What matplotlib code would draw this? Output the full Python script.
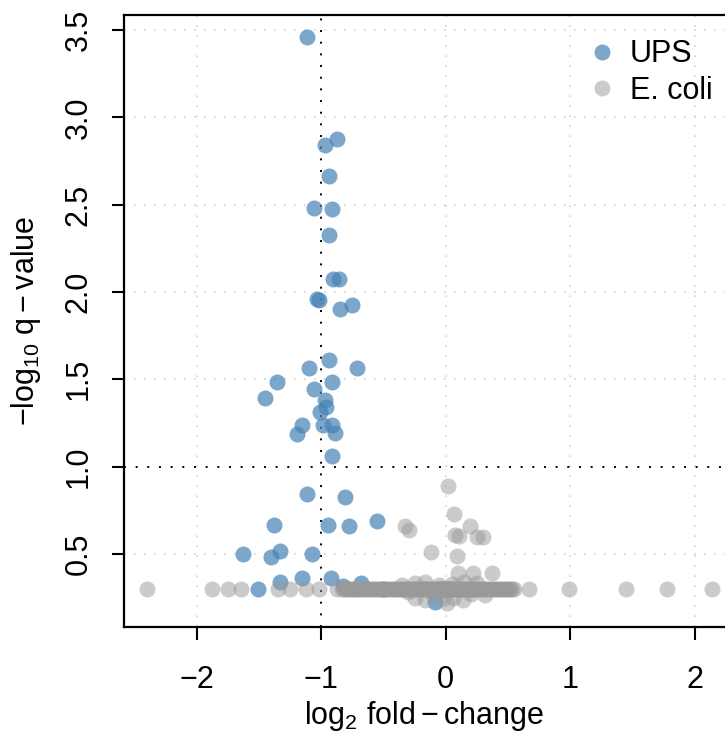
import matplotlib
matplotlib.use("Agg")
import matplotlib.pyplot as plt
from matplotlib.lines import Line2D

plt.rcParams['font.family'] = ['Liberation Sans', 'DejaVu Sans']
plt.rcParams['mathtext.fontset'] = 'custom'
plt.rcParams['mathtext.rm'] = 'Liberation Sans'
plt.rcParams['mathtext.it'] = 'Liberation Sans:italic'
plt.rcParams['mathtext.default'] = 'regular'

# UPS proteins
ups_x = [-1.11, -0.875, -0.966, -0.939, -1.057, -0.915, -0.939, -0.907, -0.854, -1.03, -1.014, -0.848, -0.75,
         -0.934, -1.095, -0.712, -1.351, -0.915, -1.059, -1.45, -0.966, -0.958, -1.009, -1.153, -0.982, -0.915,
         -1.196, -0.886, -0.915,
         -1.113, -0.811, -1.38, -0.942, -0.774, -0.551, -1.627, -1.40, -1.327, -1.07,
         -1.33, -1.153, -0.92, -0.827, -0.68, -1.504, -0.50, -0.086]
ups_y = [3.46, 2.874, 2.839, 2.664, 2.479, 2.473, 2.328, 2.074, 2.074, 1.958, 1.954, 1.904, 1.924,
         1.609, 1.566, 1.566, 1.485, 1.485, 1.443, 1.395, 1.380, 1.343, 1.315, 1.237, 1.237, 1.237,
         1.187, 1.193, 1.061,
         0.843, 0.825, 0.666, 0.666, 0.660, 0.687, 0.498, 0.485, 0.517, 0.498,
         0.338, 0.361, 0.364, 0.317, 0.332, 0.30, 0.30, 0.227]

# E. coli proteins: isolated points on the q-value floor
ecoli_floor_x = [-2.395, -1.878, -1.75, -1.643, -1.343, -1.25, -1.124, -1.014, -0.875,
                 0.666, 0.987, 1.45, 1.774, 2.14]
# E. coli proteins: dense band on the q-value floor
ecoli_band_x = [-0.83, -0.815, -0.80, -0.785, -0.77, -0.755, -0.74, -0.725, -0.71, -0.695, -0.68, -0.665,
                -0.65, -0.635, -0.62, -0.605, -0.59, -0.575, -0.56, -0.545, -0.53, -0.515, -0.50, -0.485,
                -0.47, -0.455, -0.44, -0.425, -0.41, -0.395, -0.38, -0.37, -0.36, -0.345, -0.33, -0.32,
                -0.31, -0.295, -0.28, -0.27, -0.26, -0.25, -0.24, -0.225, -0.21, -0.20, -0.19, -0.18,
                -0.17, -0.16, -0.15, -0.14, -0.13, -0.12, -0.11, -0.10, -0.09, -0.08, -0.07, -0.06,
                -0.05, -0.045, -0.04, -0.035, -0.03, -0.025, -0.02, -0.015, -0.01, -0.005, 0.0, 0.005,
                0.01, 0.015, 0.02, 0.025, 0.03, 0.035, 0.04, 0.045, 0.05, 0.06, 0.07, 0.08, 0.09, 0.10,
                0.11, 0.12, 0.13, 0.14, 0.15, 0.16, 0.17, 0.18, 0.19, 0.20, 0.21, 0.22, 0.23, 0.24,
                0.25, 0.265, 0.28, 0.295, 0.31, 0.325, 0.34, 0.355, 0.37, 0.385, 0.40, 0.415, 0.43,
                0.445, 0.46, 0.475, 0.49, 0.505, 0.52, 0.535, 0.55]
ecoli_floor_y = 0.30
# E. coli proteins: scattered points
ecoli_x = [-0.327, -0.292, 0.016, 0.069, 0.195, 0.075, 0.11, 0.254, 0.30, -0.118, 0.088, 0.101, 0.217, 0.374,
           -0.247, -0.166, 0.249, 0.05, -0.05, 0.15, -0.35, -0.246, -0.166, 0.141, 0.315, 0.008, -0.02, 0.06,
           -0.10, 0.20, -0.30]
ecoli_y = [0.662, 0.637, 0.891, 0.727, 0.660, 0.609, 0.603, 0.599, 0.599, 0.513, 0.490, 0.393, 0.393, 0.393,
           0.332, 0.341, 0.332, 0.33, 0.32, 0.34, 0.32, 0.246, 0.237, 0.237, 0.265, 0.218, 0.25, 0.25,
           0.27, 0.27, 0.28]

x_ticks = [-2, -1, 0, 1, 2]
x_tick_labels = ['\u22122', '\u22121', '0', '1', '2']
y_ticks = [0.5, 1.0, 1.5, 2.0, 2.5, 3.0, 3.5]
y_tick_labels = ['0.5', '1.0', '1.5', '2.0', '2.5', '3.0', '3.5']
fc_threshold = -1
q_threshold = 1.0

ups_color = '#4682B4'
ecoli_color = '#999999'

fig = plt.figure(figsize=(7.25, 7.33), dpi=100)
ax = fig.add_axes([124/725, 106/733, 1 - 124/725, (627-15)/733])
ax.set_xlim(-2.582, 2.2416)
ax.set_ylim(0.0822, 3.5859)

grid_ls = (0, (1, 5))
for xv in x_ticks:
    if xv != fc_threshold:
        ax.axvline(xv, color='#D3D3D3', lw=1.2, ls=grid_ls, zorder=0)
for yv in y_ticks:
    if yv != q_threshold:
        ax.axhline(yv, color='#D3D3D3', lw=1.2, ls=grid_ls, zorder=0)
ax.axvline(fc_threshold, color='black', lw=1.4, ls=grid_ls, zorder=1)
ax.axhline(q_threshold, color='black', lw=1.4, ls=grid_ls, zorder=1)

s = 133
ax.scatter(ups_x, ups_y, s=s, color=ups_color, alpha=0.7, linewidths=0, zorder=2)
all_ecoli_x = ecoli_floor_x + ecoli_band_x + ecoli_x
all_ecoli_y = [ecoli_floor_y] * (len(ecoli_floor_x) + len(ecoli_band_x)) + ecoli_y
ax.scatter(all_ecoli_x, all_ecoli_y, s=s, color=ecoli_color, alpha=0.5, linewidths=0, zorder=3)

ax.set_xticks(x_ticks)
ax.set_xticklabels(x_tick_labels)
ax.set_yticks(y_ticks)
ax.set_yticklabels(y_tick_labels, rotation=90, va='center')
ax.tick_params(axis='both', labelsize=22, length=9, width=1.5, direction='out')
ax.tick_params(axis='x', pad=18)
ax.tick_params(axis='y', pad=13)
for side in ['left', 'top', 'bottom']:
    ax.spines[side].set_linewidth(1.6)
ax.spines['right'].set_visible(False)

ax.set_xlabel(r'$\mathrm{log}_2\ \mathrm{fold}-\mathrm{change}$', fontsize=22, labelpad=3)
ax.set_ylabel(r'$-\mathrm{log}_{10}\ \mathrm{q}-\mathrm{value}$', fontsize=22, labelpad=15)

handles = [Line2D([], [], ls='none', marker='o', markersize=11.5, markerfacecolor=ups_color,
                  markeredgewidth=0, alpha=0.7, label='UPS'),
           Line2D([], [], ls='none', marker='o', markersize=11.5, markerfacecolor=ecoli_color,
                  markeredgewidth=0, alpha=0.5, label='E. coli')]
ax.legend(handles=handles, loc='upper left', bbox_to_anchor=(0.73, 0.995), frameon=False, fontsize=22,
          handletextpad=0.3, labelspacing=0.2, borderaxespad=0.3, handlelength=1.2)

fig.savefig('out.png', dpi=100)
